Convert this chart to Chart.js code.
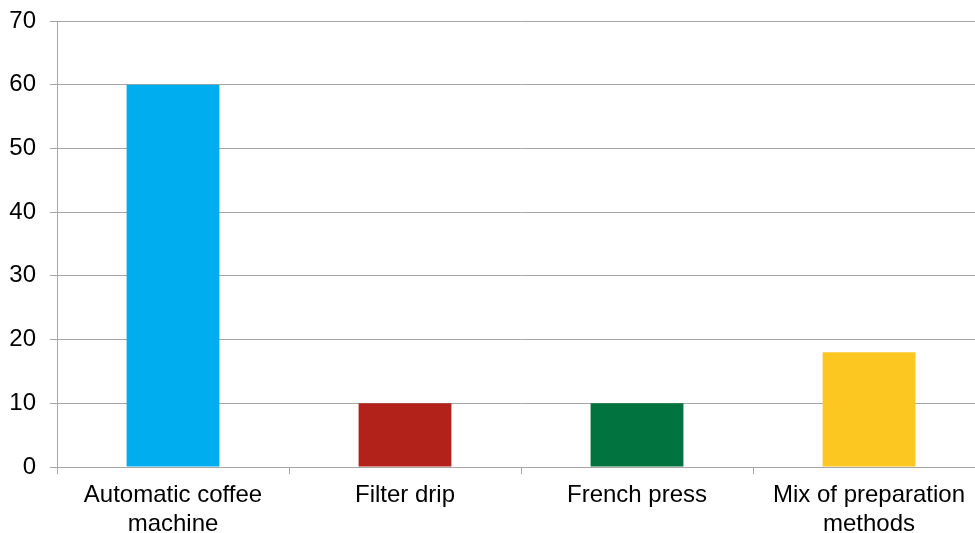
<!DOCTYPE html>
<html>
<head>
<meta charset="utf-8">
<script src="https://cdn.jsdelivr.net/npm/chart.js@4/dist/chart.umd.min.js"></script>
<style>
  html, body { margin: 0; padding: 0; background: #fff; overflow: hidden; }
  #wrap { width: 975px; height: 533px; overflow: hidden; }
  #box { width: 995px; height: 533px; }
</style>
</head>
<body>
<div id="wrap"><div id="box"><canvas id="chart"></canvas></div></div>
<script>
const categories = [
    ['Automatic coffee', 'machine'],
    ['Filter drip'],
    ['French press'],
    ['Mix of preparation', 'methods']
];
const values = [60, 10, 10, 18];
const barColors = ['#00AEEF', '#B3221A', '#00733E', '#FCC721'];
const yTicks = [0, 10, 20, 30, 40, 50, 60, 70];

const gridGray = '#A6A6A6';

new Chart(document.getElementById('chart'), {
    type: 'bar',
    data: {
        labels: categories,
        datasets: [{
            data: values,
            backgroundColor: barColors,
            borderWidth: 0,
            categoryPercentage: 1,
            barPercentage: 0.4
        }]
    },
    options: {
        responsive: true,
        maintainAspectRatio: false,
        animation: false,
        layout: { padding: { top: 21, right: 10, left: 0, bottom: 0 } },
        plugins: {
            legend: { display: false },
            tooltip: { enabled: false }
        },
        scales: {
            x: {
                grid: {
                    drawOnChartArea: false,
                    drawTicks: true,
                    tickLength: 7,
                    color: gridGray,
                    lineWidth: 1
                },
                border: { color: gridGray, width: 1 },
                ticks: {
                    color: '#000',
                    padding: 7,
                    maxRotation: 0,
                    autoSkip: false,
                    font: { family: 'Liberation Sans, Arial, sans-serif', size: 24 }
                },
                afterFit: (scale) => {
                    scale.height = 66;
                    scale.paddingLeft = 0;
                    scale.paddingRight = 0;
                }
            },
            y: {
                min: 0,
                max: 70,
                afterBuildTicks: (scale) => {
                    scale.ticks = yTicks.map(v => ({ value: v }));
                },
                grid: {
                    color: gridGray,
                    lineWidth: 1,
                    tickLength: 7
                },
                border: { color: gridGray, width: 1 },
                ticks: {
                    color: '#000',
                    padding: 14,
                    font: { family: 'Liberation Sans, Arial, sans-serif', size: 24 }
                },
                afterFit: (scale) => {
                    scale.width = 57;
                    scale.paddingTop = 0;
                    scale.paddingBottom = 0;
                }
            }
        }
    }
});
</script>
</body>
</html>
